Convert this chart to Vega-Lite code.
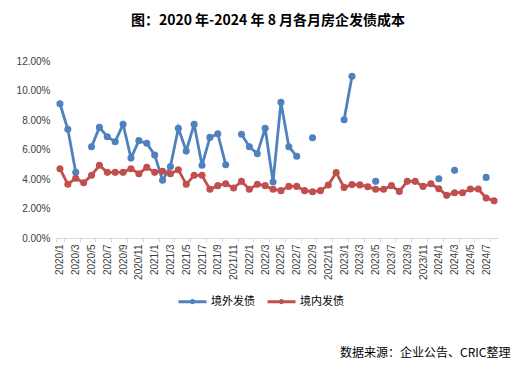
{
  "$schema": "https://vega.github.io/schema/vega-lite/v6.json",
  "width": 442,
  "height": 177,
  "autosize": {"type": "none"},
  "padding": {"left": 56, "top": 61, "right": 32, "bottom": 136},
  "background": "white",
  "title": {
    "text": "图：2020 年-2024 年 8 月各月房企发债成本",
    "font": "Noto Sans CJK SC",
    "fontSize": 14,
    "fontWeight": "bold",
    "color": "#000000",
    "anchor": "middle",
    "dx": -9,
    "offset": 28
  },
  "config": {"view": {"stroke": null}},
  "data": {
    "values": [
      {"m": "2020/1", "境外发债": 9.1, "境内发债": 4.7},
      {"m": "2020/2", "境外发债": 7.37, "境内发债": 3.64},
      {"m": "2020/3", "境外发债": 4.45, "境内发债": 4.05},
      {"m": "2020/4", "境外发债": null, "境内发债": 3.75},
      {"m": "2020/5", "境外发债": 6.19, "境内发债": 4.25},
      {"m": "2020/6", "境外发债": 7.5, "境内发债": 4.93},
      {"m": "2020/7", "境外发债": 6.87, "境内发债": 4.45},
      {"m": "2020/8", "境外发债": 6.53, "境内发债": 4.45},
      {"m": "2020/9", "境外发债": 7.71, "境内发债": 4.45},
      {"m": "2020/10", "境外发债": 5.42, "境内发债": 4.7},
      {"m": "2020/11", "境外发债": 6.6, "境内发债": 4.36},
      {"m": "2020/12", "境外发债": 6.42, "境内发债": 4.79},
      {"m": "2021/1", "境外发债": 5.63, "境内发债": 4.45},
      {"m": "2021/2", "境外发债": 3.91, "境内发债": 4.52},
      {"m": "2021/3", "境外发债": 4.84, "境内发债": 4.36},
      {"m": "2021/4", "境外发债": 7.44, "境内发债": 4.63},
      {"m": "2021/5", "境外发债": 5.9, "境内发债": 3.64},
      {"m": "2021/6", "境外发债": 7.71, "境内发债": 4.25},
      {"m": "2021/7", "境外发债": 4.93, "境内发债": 4.25},
      {"m": "2021/8", "境外发债": 6.82, "境内发债": 3.3},
      {"m": "2021/9", "境外发债": 7.07, "境内发债": 3.55},
      {"m": "2021/10", "境外发债": 4.97, "境内发债": 3.68},
      {"m": "2021/11", "境外发债": null, "境内发债": 3.39},
      {"m": "2021/12", "境外发债": 7.03, "境内发债": 3.84},
      {"m": "2022/1", "境外发债": 6.19, "境内发债": 3.3},
      {"m": "2022/2", "境外发债": 5.72, "境内发债": 3.64},
      {"m": "2022/3", "境外发债": 7.44, "境内发债": 3.55},
      {"m": "2022/4", "境外发债": 3.8, "境内发债": 3.3},
      {"m": "2022/5", "境外发债": 9.2, "境内发债": 3.21},
      {"m": "2022/6", "境外发债": 6.19, "境内发债": 3.5},
      {"m": "2022/7", "境外发债": 5.54, "境内发债": 3.5},
      {"m": "2022/8", "境外发债": null, "境内发债": 3.21},
      {"m": "2022/9", "境外发债": 6.8, "境内发债": 3.14},
      {"m": "2022/10", "境外发债": null, "境内发债": 3.21},
      {"m": "2022/11", "境外发债": null, "境内发债": 3.59},
      {"m": "2022/12", "境外发债": null, "境内发债": 4.43},
      {"m": "2023/1", "境外发债": 8.02, "境内发债": 3.43},
      {"m": "2023/2", "境外发债": 10.96, "境内发债": 3.62},
      {"m": "2023/3", "境外发债": null, "境内发债": 3.6},
      {"m": "2023/4", "境外发债": null, "境内发债": 3.48},
      {"m": "2023/5", "境外发债": 3.84, "境内发债": 3.3},
      {"m": "2023/6", "境外发债": null, "境内发债": 3.3},
      {"m": "2023/7", "境外发债": null, "境内发债": 3.55},
      {"m": "2023/8", "境外发债": null, "境内发债": 3.16},
      {"m": "2023/9", "境外发债": null, "境内发债": 3.84},
      {"m": "2023/10", "境外发债": null, "境内发债": 3.84},
      {"m": "2023/11", "境外发债": null, "境内发债": 3.5},
      {"m": "2023/12", "境外发债": null, "境内发债": 3.68},
      {"m": "2024/1", "境外发债": 4.02, "境内发债": 3.34},
      {"m": "2024/2", "境外发债": null, "境内发债": 2.89},
      {"m": "2024/3", "境外发债": 4.59, "境内发债": 3.07},
      {"m": "2024/4", "境外发债": null, "境内发债": 3.07},
      {"m": "2024/5", "境外发债": null, "境内发债": 3.32},
      {"m": "2024/6", "境外发债": null, "境内发债": 3.32},
      {"m": "2024/7", "境外发债": 4.11, "境内发债": 2.71},
      {"m": "2024/8", "境外发债": null, "境内发债": 2.53}
    ]
  },
  "transform": [{"fold": ["境外发债", "境内发债"], "as": ["key", "value"]}],
  "mark": {
    "type": "line",
    "strokeWidth": 2.8,
    "invalid": "break-paths-show-domains",
    "point": {"filled": true, "size": 50, "opacity": 1}
  },
  "encoding": {
    "x": {
      "field": "m",
      "type": "ordinal",
      "sort": null,
      "scale": {"type": "band", "paddingInner": 0, "paddingOuter": 0},
      "bandPosition": 0.5,
      "axis": {
        "values": ["2020/1","2020/3","2020/5","2020/7","2020/9","2020/11","2021/1","2021/3","2021/5","2021/7","2021/9","2021/11","2022/1","2022/3","2022/5","2022/7","2022/9","2022/11","2023/1","2023/3","2023/5","2023/7","2023/9","2023/11","2024/1","2024/3","2024/5","2024/7"],
        "labelAngle": -90,
        "labelFont": "Liberation Sans",
        "labelFontSize": 10,
        "labelColor": "#404040",
        "domainColor": "#D9D9D9",
        "tickColor": "#D9D9D9",
        "tickBand": "extent",
        "tickSize": 4,
        "labelPadding": 2,
        "title": "数据来源：企业公告、CRIC整理",
        "titleFont": "Noto Sans CJK SC",
        "titleFontSize": 12,
        "titleFontWeight": "normal",
        "titleColor": "#000000",
        "titleX": 454,
        "titleY": 118,
        "titleAlign": "right",
        "titleBaseline": "alphabetic"
      }
    },
    "y": {
      "field": "value",
      "type": "quantitative",
      "scale": {"domain": [0, 12], "nice": false},
      "axis": {
        "values": [0, 2, 4, 6, 8, 10, 12],
        "labelExpr": "format(datum.value, '.2f') + '%'",
        "grid": false,
        "domain": false,
        "ticks": false,
        "title": null,
        "labelFont": "Liberation Sans",
        "labelFontSize": 10,
        "labelColor": "#404040",
        "labelPadding": 6
      }
    },
    "color": {
      "field": "key",
      "type": "nominal",
      "scale": {"domain": ["境外发债", "境内发债"], "range": ["#4F81BD", "#C0504D"]},
      "legend": {
        "orient": "none",
        "legendX": 121,
        "legendY": 225,
        "direction": "horizontal",
        "title": null,
        "labelFont": "Noto Sans CJK SC",
        "labelFontSize": 11,
        "labelColor": "#000000",
        "symbolType": "M-1,0H1M-0.08,0a0.08,0.08 0 1,0 0.16,0a0.08,0.08 0 1,0 -0.16,0",
        "symbolSize": 784,
        "symbolStrokeWidth": 3,
        "labelOffset": 3,
        "columnPadding": 6
      }
    }
  }
}
